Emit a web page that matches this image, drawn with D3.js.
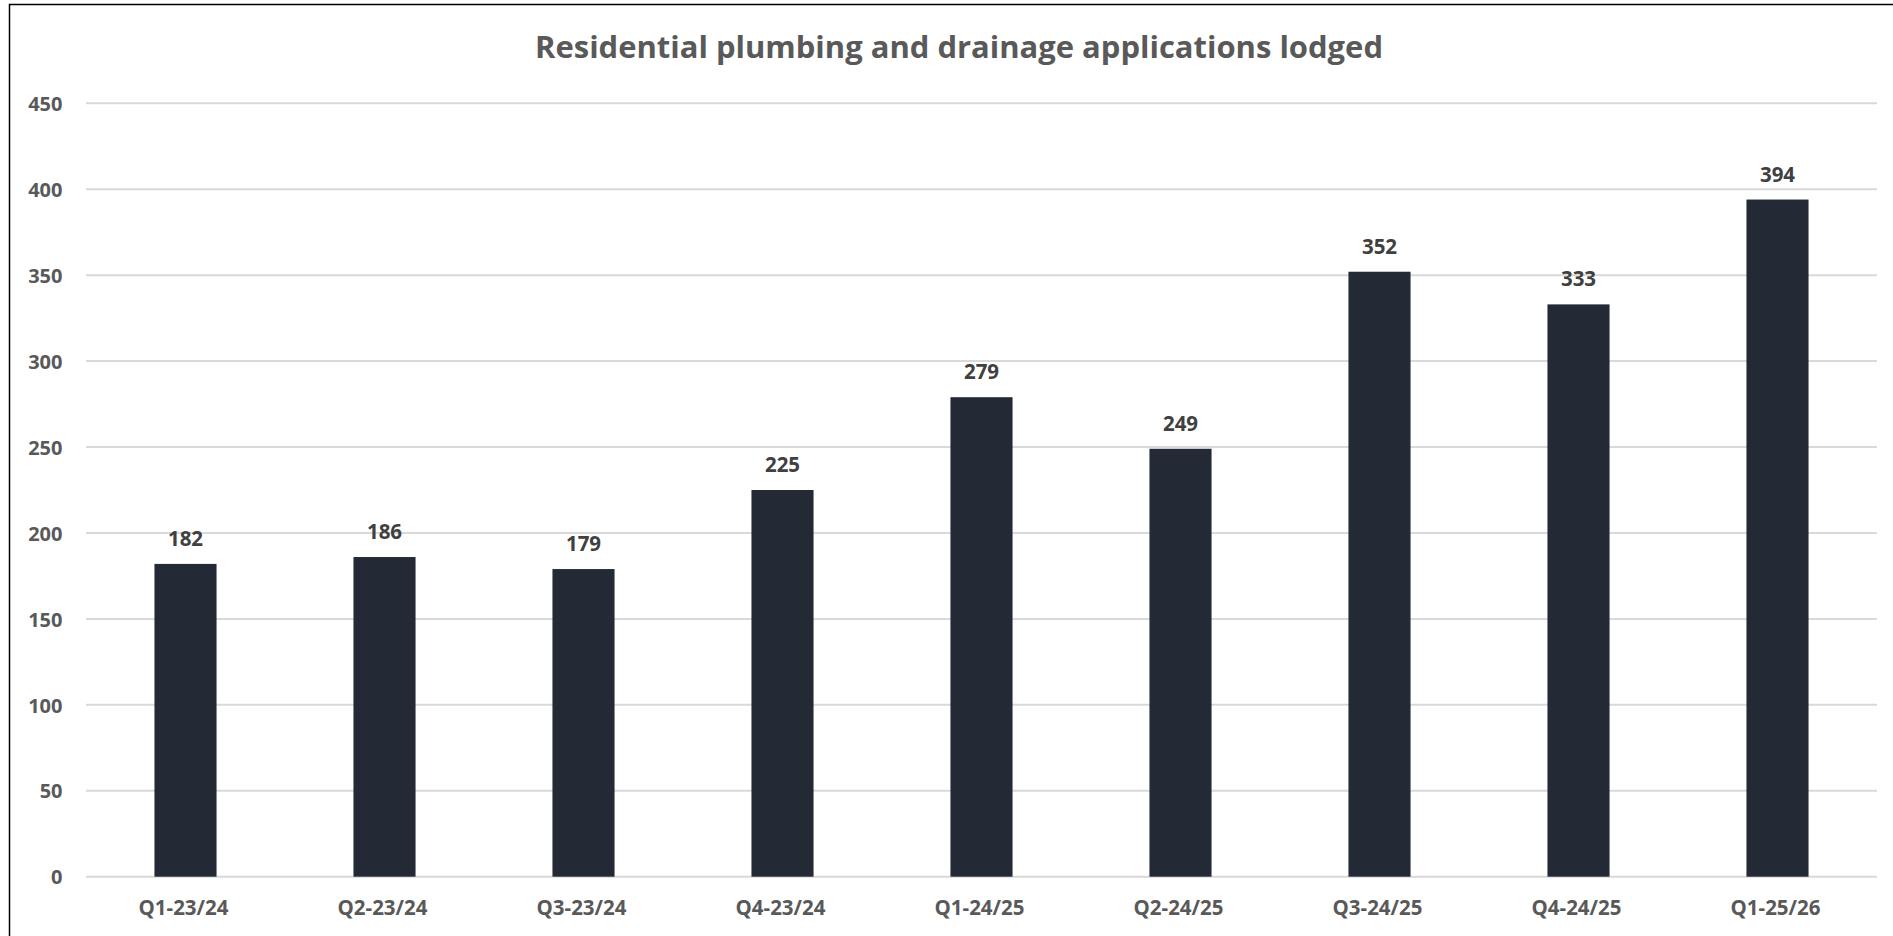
<!DOCTYPE html>
<html>
<head>
<meta charset="utf-8">
<script src="https://cdn.jsdelivr.net/npm/d3@7"></script>
<style>
  html, body { margin: 0; padding: 0; background: #fff; }
  svg { display: block; }
  text { font-family: "Open Sans", sans-serif; font-weight: bold; }
</style>
</head>
<body>
<svg id="chart" width="1893" height="936"></svg>
<script>
const title = "Residential plumbing and drainage applications lodged";
const categories = ["Q1-23/24","Q2-23/24","Q3-23/24","Q4-23/24","Q1-24/25","Q2-24/25","Q3-24/25","Q4-24/25","Q1-25/26"];
const values = [182, 186, 179, 225, 279, 249, 352, 333, 394];
const yTicks = [0, 50, 100, 150, 200, 250, 300, 350, 400, 450];

const W = 1893, H = 936;
const margin = { left: 86, right: 16, top: 103.3, bottom: 59.3 };
const svg = d3.select("#chart");

// outer border
svg.append("rect")
  .attr("x", 9.5).attr("y", 4.5)
  .attr("width", W + 20).attr("height", H + 20)
  .attr("fill", "none").attr("stroke", "#000").attr("stroke-width", 1.5);

const x = d3.scaleBand()
  .domain(categories)
  .range([margin.left, W - margin.right])
  .paddingInner(0.688).paddingOuter(0.344);

const y = d3.scaleLinear()
  .domain([0, 450])
  .range([H - margin.bottom, margin.top]);

// gridlines
svg.append("g")
  .selectAll("line").data(yTicks).join("line")
  .attr("x1", margin.left).attr("x2", W - margin.right)
  .attr("y1", d => y(d)).attr("y2", d => y(d))
  .attr("stroke", "#d9d9d9").attr("stroke-width", 2);

// y axis labels
const yAxis = d3.axisLeft(y).tickValues(yTicks).tickSize(0).tickPadding(0);
const yg = svg.append("g").attr("transform", `translate(${62.5},0)`).call(yAxis);
yg.select(".domain").remove();
yg.selectAll("text")
  .attr("fill", "#595959")
  .style("font-size", "20px")
  .style("font-family", "'Open Sans', sans-serif")
  .style("font-weight", "bold")
  .attr("dy", "0.36em");

// x axis labels
const xAxis = d3.axisBottom(x).tickSize(0).tickPadding(0);
const xg = svg.append("g").attr("transform", `translate(-2,${915})`).call(xAxis);
xg.select(".domain").remove();
xg.selectAll("text")
  .attr("fill", "#595959")
  .attr("dy", 0)
  .style("font-size", "20.5px")
  .style("font-family", "'Open Sans', sans-serif")
  .style("font-weight", "bold");

// bars
svg.append("g")
  .selectAll("rect").data(values).join("rect")
  .attr("x", (d, i) => x(categories[i]))
  .attr("width", x.bandwidth())
  .attr("y", d => y(d))
  .attr("height", d => y(0) - y(d))
  .attr("fill", "#232a35");

// data labels
svg.append("g")
  .selectAll("text").data(values).join("text")
  .attr("x", (d, i) => x(categories[i]) + x.bandwidth() / 2)
  .attr("y", d => y(d) - 18)
  .attr("text-anchor", "middle")
  .attr("fill", "#404040")
  .style("font-size", "20.5px")
  .text(d => d);

// title
svg.append("text")
  .attr("x", 959).attr("y", 58)
  .attr("text-anchor", "middle")
  .attr("fill", "#595959")
  .style("font-size", "30.5px")
  .attr("textLength", 848)
  .attr("lengthAdjust", "spacingAndGlyphs")
  .text(title);
</script>
</body>
</html>
